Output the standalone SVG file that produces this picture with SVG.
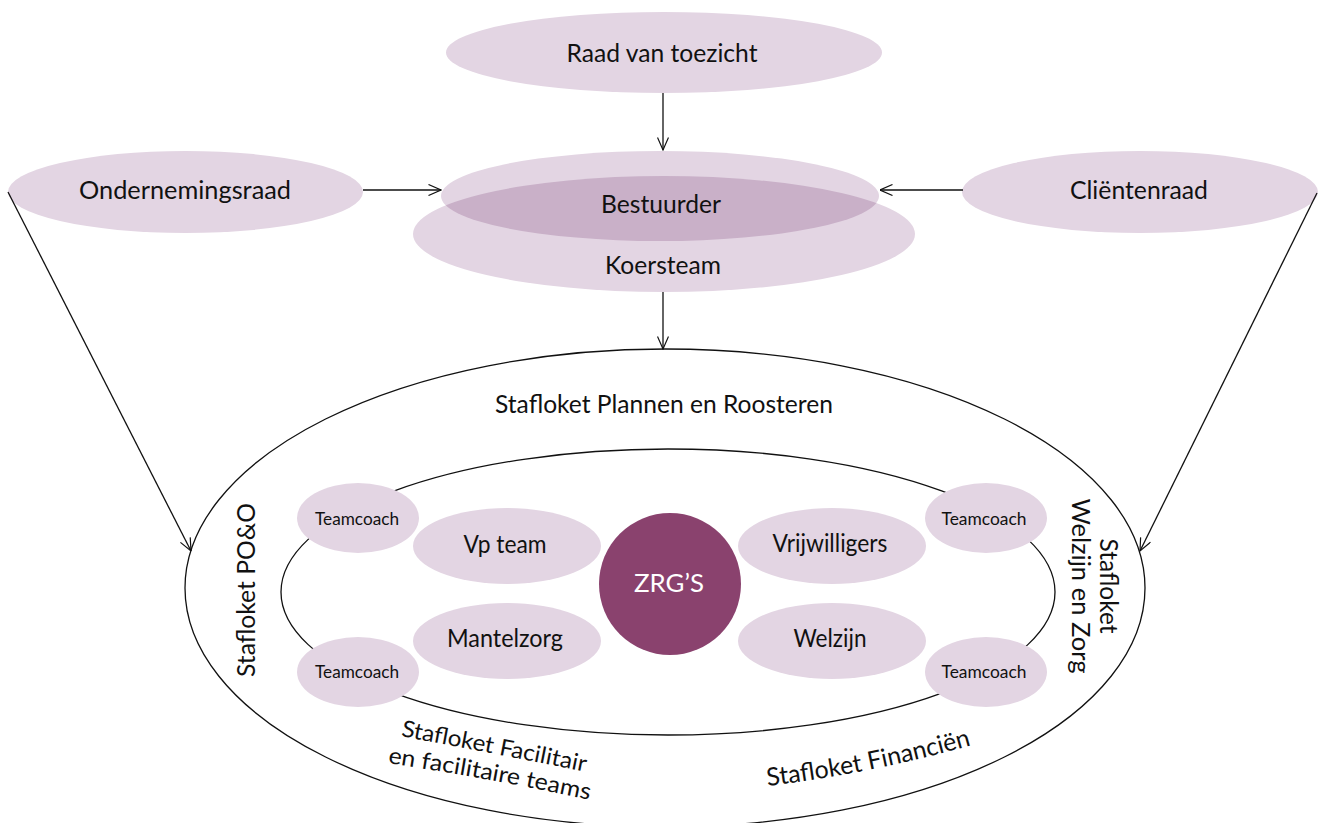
<svg xmlns="http://www.w3.org/2000/svg" width="1322" height="823" viewBox="0 0 1322 823">
<style>
.n{fill:#e3d5e3}
.t{font-family:Lato,"Open Sans","Liberation Sans",sans-serif;font-size:25px;fill:#111;text-anchor:middle}
.s{font-size:17px}
.b{font-size:23px}
.c{stroke:#111;stroke-width:1.3;fill:none}
.w{fill:#fff}
</style>
<defs>
<marker id="ah" viewBox="0 0 14 12" refX="13.5" refY="6" markerWidth="14" markerHeight="12" markerUnits="userSpaceOnUse" orient="auto">
<path d="M1,0.5 L13.5,6 L1,11.5" fill="none" stroke="#111" stroke-width="1.2"/>
</marker>
<clipPath id="kclip"><ellipse cx="664" cy="234" rx="251" ry="58"/></clipPath>
</defs>

<g id="raad">
<ellipse class="n" cx="664" cy="52.5" rx="218" ry="40.5"/>
<text class="t" x="662" y="62" textLength="191" lengthAdjust="spacingAndGlyphs">Raad van toezicht</text>
</g>

<g id="ondernemingsraad">
<ellipse class="n" cx="185.5" cy="192" rx="177.5" ry="41"/>
<text class="t" x="185" y="199" textLength="212" lengthAdjust="spacingAndGlyphs">Ondernemingsraad</text>
</g>

<g id="clientenraad">
<ellipse class="n" cx="1140" cy="192" rx="178" ry="41"/>
<text class="t" x="1139" y="199" textLength="138" lengthAdjust="spacingAndGlyphs">Cliëntenraad</text>
</g>

<g id="koersteam">
<ellipse class="n" cx="664" cy="234" rx="251" ry="58"/>
<text class="t" x="663" y="274" textLength="116" lengthAdjust="spacingAndGlyphs">Koersteam</text>
</g>

<g id="bestuurder">
<ellipse class="n" cx="660" cy="196" rx="219" ry="45"/>
<ellipse cx="660" cy="196" rx="219" ry="45" fill="#c9b0c8" clip-path="url(#kclip)"/>
<text class="t" x="661" y="213" textLength="120" lengthAdjust="spacingAndGlyphs">Bestuurder</text>
</g>

<g id="stafloket-outer">
<ellipse cx="665" cy="588" rx="480" ry="239" fill="none" stroke="#111" stroke-width="1.3"/>
<text class="t" x="664" y="413" textLength="338" lengthAdjust="spacingAndGlyphs">Stafloket Plannen en Roosteren</text>
<text class="t" transform="translate(255,590) rotate(-90)" textLength="174" lengthAdjust="spacingAndGlyphs">Stafloket PO&amp;O</text>
<text class="t" transform="translate(1100,586) rotate(90)" textLength="95" lengthAdjust="spacingAndGlyphs">Stafloket</text>
<text class="t" transform="translate(1072,586) rotate(90)" textLength="175" lengthAdjust="spacingAndGlyphs">Welzijn en Zorg</text>
<path id="p1" d="M400,736 Q492,753 586,772" fill="none"/>
<path id="p2" d="M387,763 Q488,778 590,800" fill="none"/>
<path id="p3" d="M767,786 Q870,774 972,745" fill="none"/>
<text class="t b"><textPath href="#p1" startOffset="50%" textLength="188" lengthAdjust="spacingAndGlyphs">Stafloket Facilitair</textPath></text>
<text class="t b"><textPath href="#p2" startOffset="50%" textLength="205" lengthAdjust="spacingAndGlyphs">en facilitaire teams</textPath></text>
<text class="t"><textPath href="#p3" startOffset="50%" textLength="208" lengthAdjust="spacingAndGlyphs">Stafloket Financiën</textPath></text>
</g>

<g id="inner-ring">
<ellipse cx="668" cy="592" rx="387" ry="143" fill="none" stroke="#111" stroke-width="1.3"/>
</g>

<g id="teamcoach-lt">
<ellipse class="n" cx="358" cy="518" rx="61" ry="35"/>
<text class="t s" x="357" y="525" textLength="84" lengthAdjust="spacingAndGlyphs">Teamcoach</text>
</g>
<g id="teamcoach-lb">
<ellipse class="n" cx="358" cy="672" rx="61" ry="35"/>
<text class="t s" x="357" y="678" textLength="84" lengthAdjust="spacingAndGlyphs">Teamcoach</text>
</g>
<g id="teamcoach-rt">
<ellipse class="n" cx="986" cy="518" rx="61" ry="35"/>
<text class="t s" x="984" y="525" textLength="85" lengthAdjust="spacingAndGlyphs">Teamcoach</text>
</g>
<g id="teamcoach-rb">
<ellipse class="n" cx="986" cy="672" rx="61" ry="35"/>
<text class="t s" x="984" y="678" textLength="85" lengthAdjust="spacingAndGlyphs">Teamcoach</text>
</g>

<g id="vpteam">
<ellipse class="n" cx="507" cy="546" rx="94" ry="38"/>
<text class="t" x="505" y="553" textLength="83" lengthAdjust="spacingAndGlyphs">Vp team</text>
</g>
<g id="mantelzorg">
<ellipse class="n" cx="507" cy="641" rx="94" ry="38"/>
<text class="t" x="505" y="647" textLength="116" lengthAdjust="spacingAndGlyphs">Mantelzorg</text>
</g>
<g id="vrijwilligers">
<ellipse class="n" cx="832" cy="546" rx="94" ry="38"/>
<text class="t" x="830" y="552" textLength="115" lengthAdjust="spacingAndGlyphs">Vrijwilligers</text>
</g>
<g id="welzijn">
<ellipse class="n" cx="832" cy="641" rx="94" ry="38"/>
<text class="t" x="830" y="647" textLength="73" lengthAdjust="spacingAndGlyphs">Welzijn</text>
</g>

<g id="zrgs">
<circle cx="670" cy="584" r="71" fill="#8a426e"/>
<text class="t w" x="669" y="592" font-size="26" textLength="70" lengthAdjust="spacingAndGlyphs">ZRG’S</text>
</g>

<g id="connectors">
<line class="c" x1="663" y1="93" x2="663" y2="150" marker-end="url(#ah)"/>
<line class="c" x1="363" y1="190" x2="441" y2="190" marker-end="url(#ah)"/>
<line class="c" x1="963" y1="190" x2="880" y2="190" marker-end="url(#ah)"/>
<line class="c" x1="663" y1="292" x2="663" y2="349" marker-end="url(#ah)"/>
<line class="c" x1="8" y1="192" x2="191" y2="551" marker-end="url(#ah)"/>
<line class="c" x1="1317" y1="193" x2="1140" y2="551" marker-end="url(#ah)"/>
</g>
</svg>
